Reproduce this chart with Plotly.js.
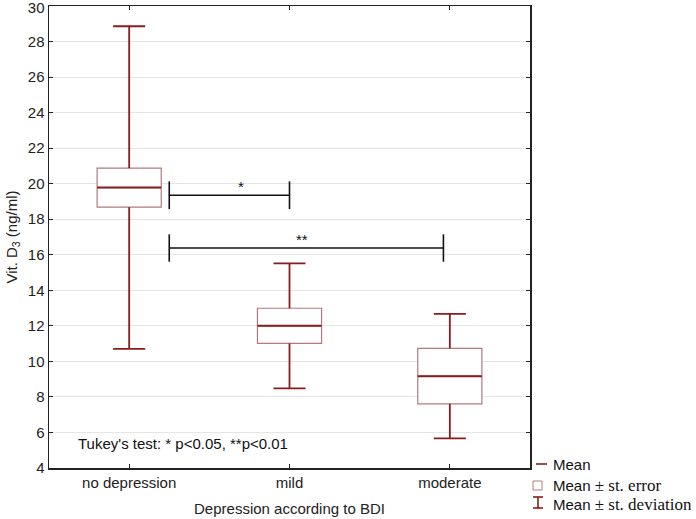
<!DOCTYPE html>
<html><head><meta charset="utf-8">
<script src="https://cdn.plot.ly/plotly-3.0.1.min.js"></script>
<style>html,body{margin:0;padding:0;background:#fff}</style>
</head><body><div id="chart" style="width:696px;height:519px"></div>
<script>
// ---- data ----
const categories = ['no depression', 'mild', 'moderate'];
const means = [19.78, 12.0, 9.17];
const stErr = [1.1, 0.99, 1.56];
const stDev = [9.08, 3.52, 3.5];
const yTickVals = [4, 6, 8, 10, 12, 14, 16, 18, 20, 22, 24, 26, 28, 30];
// Tukey brackets (category index positions and y level)
const bracketFrom = [0.25, 0.25];
const bracketTo = [1.0, 1.96];
const bracketY = [19.35, 16.38];
const bracketHalfTick = [0.78, 0.77];
const bracketLabelX = [0.70, 1.08];
const bracketLabels = ['*', '**'];
const noteText = "Tukey's test: * p<0.05, **p<0.01";
const legendLabels = ['Mean', 'Mean ± st. error', 'Mean ± st. deviation'];

// ---- styling ----
const DARK = '#8a1c1c';
const LIGHT = '#b47a7a';
const FONT = 'Liberation Sans, Arial, sans-serif';
const SERIF = 'Liberation Serif, Times New Roman, serif';
const BOX_W = 0.4, CAP_W = 0.2;

const pos = categories.map((c, i) => i);
const q1 = means.map((m, i) => m - stErr[i]);
const q3 = means.map((m, i) => m + stErr[i]);

const boxTrace = {
  type: 'box', x: pos, q1: q1, median: means, q3: q3,
  lowerfence: q1, upperfence: q3, width: BOX_W, whiskerwidth: 0,
  boxpoints: false, fillcolor: '#ffffff',
  line: {color: LIGHT, width: 1.2}, hoverinfo: 'skip', showlegend: false
};

const meanX = [], meanY = [];
const whX = [], whY = [];
pos.forEach((p, i) => {
  meanX.push(p - BOX_W / 2, p + BOX_W / 2, null);
  meanY.push(means[i], means[i], null);
  const up = means[i] + stDev[i], lo = means[i] - stDev[i];
  whX.push(p, p, null, p, p, null, p - CAP_W / 2, p + CAP_W / 2, null, p - CAP_W / 2, p + CAP_W / 2, null);
  whY.push(q3[i], up, null, q1[i], lo, null, up, up, null, lo, lo, null);
});
const meanTrace = {type: 'scatter', mode: 'lines', x: meanX, y: meanY,
  line: {color: DARK, width: 2}, hoverinfo: 'skip', showlegend: false};
const whiskerTrace = {type: 'scatter', mode: 'lines', x: whX, y: whY,
  line: {color: DARK, width: 1.8}, hoverinfo: 'skip', showlegend: false};

const brX = [], brY = [];
bracketY.forEach((y, i) => {
  const a = bracketFrom[i], b = bracketTo[i], t = bracketHalfTick[i];
  brX.push(a, b, null, a, a, null, b, b, null);
  brY.push(y, y, null, y - t, y + t, null, y - t, y + t, null);
});
const bracketTrace = {type: 'scatter', mode: 'lines', x: brX, y: brY,
  line: {color: '#111111', width: 1.6}, hoverinfo: 'skip', showlegend: false};

// pixel -> paper helpers for layout-only decorations
const L = 49, R = 530, T = 6, B = 468;
const px = v => (v - L) / (R - L);
const py = v => (B - v) / (B - T);

const annotations = bracketLabels.map((s, i) => ({
  x: bracketLabelX[i], y: bracketY[i], xref: 'x', yref: 'y',
  text: s, showarrow: false, yanchor: 'bottom', yshift: -2,
  font: {family: FONT, size: 15, color: '#111'}
}));
annotations.push({
  x: px(76), y: py(443), xref: 'paper', yref: 'paper', xanchor: 'left', yanchor: 'middle',
  text: noteText, showarrow: false, font: {family: FONT, size: 15, color: '#111'}
});
const legY = [464, 485, 504];
legendLabels.forEach((lab, i) => {
  const parts = lab.split(' ');
  const first = parts.shift();
  const rest = parts.join(' ');
  const txt = rest ? first + ' <span style="font-family:' + SERIF + ';font-size:17px">' + rest + '</span>' : first;
  annotations.push({
    x: px(551), y: py(legY[i]), xref: 'paper', yref: 'paper', xanchor: 'left', yanchor: 'middle',
    text: txt, showarrow: false, font: {family: FONT, size: 15, color: '#111'}
  });
});

const shapes = [
  {type: 'line', xref: 'paper', yref: 'paper', x0: px(536), x1: px(547), y0: py(464), y1: py(464), line: {color: DARK, width: 1.6}},
  {type: 'rect', xref: 'paper', yref: 'paper', x0: px(533), x1: px(542), y0: py(490), y1: py(481), line: {color: LIGHT, width: 1}, fillcolor: '#fff'},
  {type: 'line', xref: 'paper', yref: 'paper', x0: px(538), x1: px(538), y0: py(497), y1: py(508), line: {color: DARK, width: 1.6}},
  {type: 'line', xref: 'paper', yref: 'paper', x0: px(533), x1: px(543), y0: py(497), y1: py(497), line: {color: DARK, width: 1.6}},
  {type: 'line', xref: 'paper', yref: 'paper', x0: px(533), x1: px(543), y0: py(508), y1: py(508), line: {color: DARK, width: 1.6}}
];

const layout = {
  width: 696, height: 519,
  margin: {l: L, r: 696 - R, t: T, b: 519 - B},
  paper_bgcolor: '#fff', plot_bgcolor: '#fff',
  font: {family: FONT, size: 15, color: '#222'},
  showlegend: false,
  xaxis: {
    range: [-0.5, 2.5], tickvals: pos, ticktext: categories,
    showgrid: false, zeroline: false, showline: true, mirror: 'ticks',
    linecolor: '#222', linewidth: 1.5, ticks: 'inside', ticklen: 4, tickcolor: '#222',
    tickfont: {family: FONT, size: 15, color: '#222'},
    title: {text: 'Depression according to BDI', font: {family: FONT, size: 15, color: '#222'}, standoff: 14}
  },
  yaxis: {
    range: [4, 30], tickvals: yTickVals,
    showgrid: true, gridcolor: '#e6e6e6', gridwidth: 1, zeroline: false,
    showline: true, mirror: 'ticks', linecolor: '#222', linewidth: 1.5,
    ticks: 'inside', ticklen: 4, tickcolor: '#222',
    tickfont: {family: FONT, size: 15, color: '#222'},
    title: {text: 'Vit. D<sub>3</sub> (ng/ml)', font: {family: FONT, size: 15, color: '#222'}, standoff: 6}
  },
  annotations: annotations,
  shapes: shapes
};

Plotly.newPlot('chart', [boxTrace, meanTrace, whiskerTrace, bracketTrace], layout, {displayModeBar: false, staticPlot: true})
  .then(() => {
    // Plotly hides the top tick label because it touches the page edge; show it, nudged fully inside
    document.querySelectorAll('#chart .ytick text').forEach(t => {
      if (t.style.display === 'none') {
        t.style.display = '';
        const tr = t.getAttribute('transform') || '';
        t.setAttribute('transform', tr + ' translate(0,1.5)');
      }
    });
  });
</script>
</body></html>
